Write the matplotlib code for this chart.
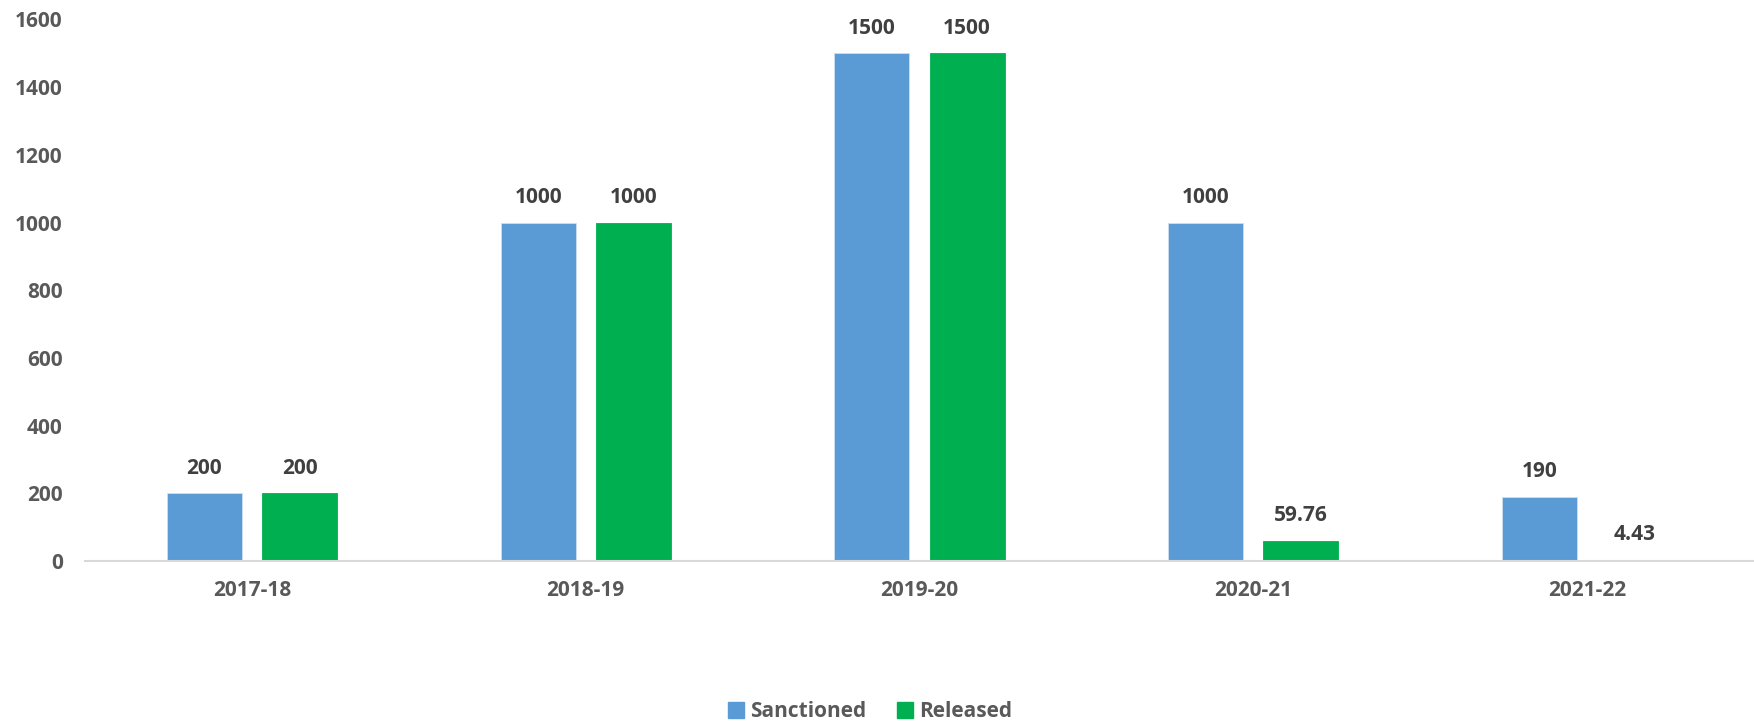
import matplotlib
matplotlib.use("Agg")
import matplotlib.pyplot as plt
import numpy as np
from matplotlib.patches import Patch

categories = ["2017-18", "2018-19", "2019-20", "2020-21", "2021-22"]
sanctioned = [200, 1000, 1500, 1000, 190]
released = [200, 1000, 1500, 59.76, 4.43]
sanctioned_labels = ["200", "1000", "1500", "1000", "190"]
released_labels = ["200", "1000", "1500", "59.76", "4.43"]
yticks = [0, 200, 400, 600, 800, 1000, 1200, 1400, 1600]

plt.rcParams['font.family'] = ['Open Sans', 'DejaVu Sans']

fig = plt.figure(figsize=(17.54, 7.24), dpi=100)
ax = fig.add_axes([0.0485, 0.2251, 0.9515, 0.748])

x = np.arange(len(categories))
w = 0.225
off = 0.1426
blue = "#5B9BD5"
green = "#00B050"
b1 = ax.bar(x - off, sanctioned, w, color=blue, edgecolor="#cfe0f1", linewidth=0.6)
b2 = ax.bar(x + off, released, w, color=green, edgecolor="#00B050", linewidth=0.6)

for rects, labs in ((b1, sanctioned_labels), (b2, released_labels)):
    for r, lab in zip(rects, labs):
        ax.annotate(lab, (r.get_x() + r.get_width() / 2, r.get_height()),
                    xytext=(0, 18), textcoords="offset points",
                    ha="center", va="center", fontsize=15, fontweight="bold",
                    color="#404040")

ax.set_xlim(-0.5, len(categories) - 0.5)
ax.set_ylim(0, 1600)
ax.set_yticks(yticks)
ax.set_yticklabels([str(t) for t in yticks])
ax.set_xticks(x)
ax.set_xticklabels(categories)
for s in ("top", "right", "left"):
    ax.spines[s].set_visible(False)
ax.spines["bottom"].set_color("#d9d9d9")
ax.spines["bottom"].set_linewidth(1.5)
ax.tick_params(axis="both", length=0, labelsize=15, labelcolor="#595959")
ax.tick_params(axis="x", pad=14)
ax.tick_params(axis="y", pad=16)
for lbl in ax.get_xticklabels() + ax.get_yticklabels():
    lbl.set_fontweight("bold")

handles = [Patch(color=blue, label="Sanctioned"), Patch(color=green, label="Released")]
leg = fig.legend(handles=handles, loc="center", bbox_to_anchor=(0.496, 0.017),
                 ncol=2, frameon=False, handlelength=0.75, handleheight=0.75,
                 handletextpad=0.3, columnspacing=1.5,
                 prop={"size": 15, "weight": "bold"})
for t in leg.get_texts():
    t.set_color("#595959")

fig.savefig("out.png", dpi=100)
